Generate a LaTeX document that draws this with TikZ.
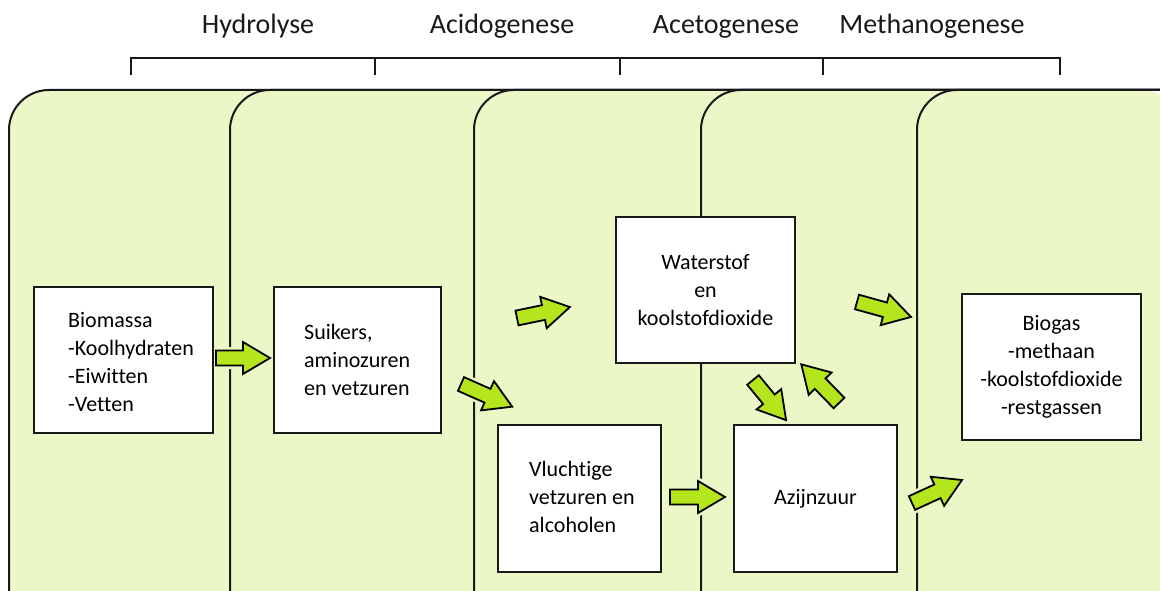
\documentclass[tikz,border=0pt]{standalone}
\usepackage{fontspec}
\setmainfont[Ligatures={NoCommon,NoDiscretionary,NoContextual}]{Carlito}
\definecolor{panelgreen}{RGB}{236,247,200}
\definecolor{limearrow}{RGB}{181,230,29}
\definecolor{inkdark}{RGB}{25,25,25}
\newcommand{\blockarrow}[4]{%
  \begin{scope}[shift={(#1,#2)},rotate=#3]
    \path[arrowhalo] (0,-7.5) -- (#4-27,-7.5) -- (#4-27,-16) -- (#4,0) -- (#4-27,16) -- (#4-27,7.5) -- (0,7.5) -- cycle;
    \path[arrowbody] (0,-7.5) -- (#4-27,-7.5) -- (#4-27,-16) -- (#4,0) -- (#4-27,16) -- (#4-27,7.5) -- (0,7.5) -- cycle;
  \end{scope}}
\begin{document}
\begin{tikzpicture}[x=1pt,y=-1pt,
  panelfill/.style={fill=panelgreen},
  paneledge/.style={draw=inkdark,line width=2pt,rounded corners=40pt},
  bracketline/.style={draw=inkdark,line width=2pt},
  heading/.style={font=\fontsize{28pt}{32pt}\selectfont,text=inkdark,anchor=base,inner sep=0pt},
  box/.style={draw=inkdark,line width=2pt,fill=white,rectangle,inner sep=0pt},
  lbl/.style={font=\fontsize{22pt}{28pt}\selectfont,text=black,inner sep=0pt,align=left},
  clbl/.style={font=\fontsize{22pt}{28pt}\selectfont,text=black,align=center},
  arrowhalo/.style={draw=panelgreen,line width=7pt,line join=round},
  arrowbody/.style={draw=black,fill=limearrow,line width=1.8pt,line join=miter}]
\useasboundingbox (0,0) rectangle (1160,591);
\clip (0,0) rectangle (1160,591);
\fill[white] (0,0) rectangle (1160,591);
% headings
\node[heading] (hyd) at (258,34) {Hydrolyse};
\node[heading] (aci) at (502,34) {Acidogenese};
\node[heading] (ace) at (726,34) {Acetogenese};
\node[heading] (met) at (932,34) {Methanogenese};
% bracket
\draw[bracketline] (131,75) -- (131,58) -- (1060,58) -- (1060,75);
\foreach \tx in {375,620,823} \draw[bracketline] (\tx,58) -- (\tx,75);
% panels
\foreach \px in {9,230,474,701,917} {
  \path[panelfill,rounded corners=40pt] (\px,620) -- (\px,90) -- (1180,90) [sharp corners] -- (1180,620) -- cycle;
  \draw[paneledge] (\px,620) -- (\px,90) -- (1180,90);
}
% arrows
\blockarrow{216}{358}{0}{54}
\blockarrow{461}{384}{-23.9}{56}
\blockarrow{517}{318}{11.7}{54}
\blockarrow{670}{497}{0}{55}
\blockarrow{753}{380}{-50.5}{52}
\blockarrow{839}{403}{134.3}{54}
\blockarrow{857}{302}{-15.5}{56}
\blockarrow{912}{503}{24.7}{55}
% boxes
\node[box,minimum width=179pt,minimum height=146pt] (bio) at (123.5,360) {};
\node[box,minimum width=167pt,minimum height=146pt] (suik) at (357.5,360) {};
\node[box,minimum width=179pt,minimum height=146pt] (wat) at (705.5,290) {};
\node[box,minimum width=163pt,minimum height=147pt] (vlu) at (579.5,498.5) {};
\node[box,minimum width=163pt,minimum height=147pt] (azi) at (815.5,498.5) {};
\node[box,minimum width=179pt,minimum height=146pt] (gas) at (1051.5,367) {};
% texts
\node[lbl,anchor=west] (biotxt) at ([xshift=35pt,yshift=-2pt]bio.west) {Biomassa\\-Koolhydraten\\-Eiwitten\\-Vetten};
\node[lbl,anchor=west] (suiktxt) at ([xshift=31pt]suik.west) {Suikers,\\aminozuren\\en vetzuren};
\node[lbl,anchor=west] (vlutxt) at ([xshift=32pt,yshift=2pt]vlu.west) {Vluchtige\\vetzuren en\\alcoholen};
\node[clbl] (wattxt) at (wat.center) {Waterstof\\en\\koolstofdioxide};
\node[clbl] (azitxt) at (azi.center) {Azijnzuur};
\node[clbl] (gastxt) at (gas.center) {Biogas\\-methaan\\-koolstofdioxide\\-restgassen};
\end{tikzpicture}
\end{document}
